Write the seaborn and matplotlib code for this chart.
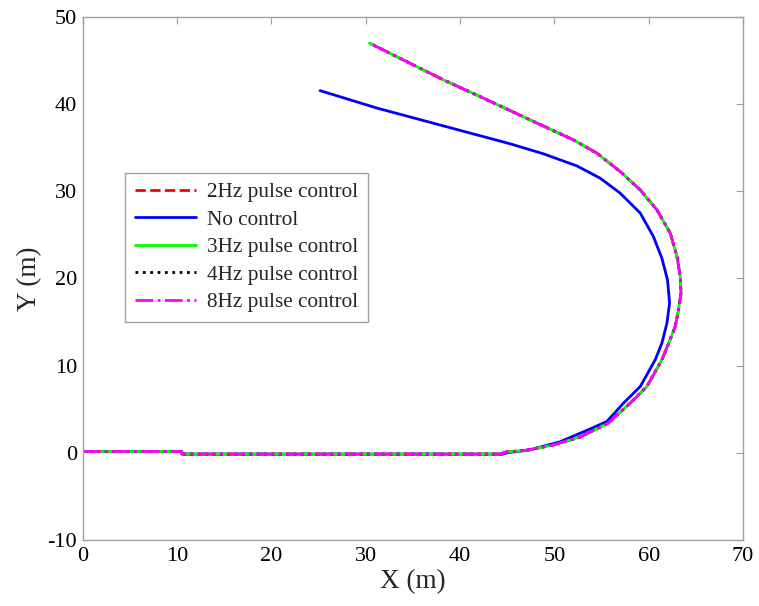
import matplotlib
matplotlib.use("Agg")
import matplotlib.pyplot as plt
import seaborn as sns

# trajectory (x, y in metres)
pulse_x = [0, 10.5, 10.5, 44.5, 44.6, 47.1, 49.9, 52.7, 55.7, 58.04, 59.8, 61.4, 62.2,
           62.81, 63.16, 63.42, 63.34, 63.0, 62.28, 60.87, 59.1, 56.98, 54.51, 52.03,
           47.43, 42.13, 38.24, 34.3, 30.4]
pulse_y = [0.15, 0.15, -0.15, -0.15, 0.05, 0.3, 0.9, 1.8, 3.4, 5.7, 7.6, 10.67, 12.8,
           14.48, 16.40, 18.31, 20.22, 22.5, 25.2, 27.87, 30.16, 32.26, 34.37, 35.89,
           38.19, 40.86, 42.78, 44.9, 47.0]

nocontrol_x = [0, 10.5, 10.5, 44.5, 45.0, 47.4, 50.6, 53.5, 55.56, 57.33, 59.1, 60.69, 61.4,
               61.93, 62.21, 61.99, 61.4, 60.5, 59.1, 56.98, 54.86, 52.39, 48.84, 45.31,
               38.24, 31.18, 25.16]
nocontrol_y = [0.15, 0.15, -0.15, -0.15, 0.0, 0.34, 1.26, 2.6, 3.59, 5.7, 7.6, 10.67, 12.6,
               14.87, 17.17, 19.84, 22.3, 24.8, 27.5, 29.78, 31.50, 32.91, 34.3, 35.45,
               37.5, 39.55, 41.55]

sns.set_style("white")
plt.rcParams['font.family'] = ['Liberation Serif', 'DejaVu Serif']
plt.rcParams['axes.unicode_minus'] = False

fig = plt.figure(figsize=(7.59, 6.06), dpi=100)
ax = fig.add_axes([0.109, 0.109, 0.870, 0.863])

lw = 2.0
sns.lineplot(x=pulse_x, y=pulse_y, sort=False, estimator=None, ax=ax, color='#ff0000',
             linestyle='--', linewidth=lw, label='2Hz pulse control')
sns.lineplot(x=nocontrol_x, y=nocontrol_y, sort=False, estimator=None, ax=ax, color='#0000ff',
             linestyle='-', linewidth=lw, label='No control')
sns.lineplot(x=pulse_x, y=pulse_y, sort=False, estimator=None, ax=ax, color='#00ff00',
             linestyle='-', linewidth=lw, label='3Hz pulse control')
sns.lineplot(x=pulse_x, y=pulse_y, sort=False, estimator=None, ax=ax, color='black',
             linestyle=':', linewidth=lw, label='4Hz pulse control')
sns.lineplot(x=pulse_x, y=pulse_y, sort=False, estimator=None, ax=ax, color='#ff00ff',
             linestyle='-.', linewidth=lw, label='8Hz pulse control')

ax.set_xlim(0, 70)
ax.set_ylim(-10, 50)
ax.set_xticks(range(0, 71, 10))
ax.set_yticks(range(-10, 51, 10))
ax.set_xlabel('X (m)', fontsize=19.5, labelpad=2)
ax.set_ylabel('Y (m)', fontsize=19.5, labelpad=4)

for s in ax.spines.values():
    s.set_color('#a0a0a0')
    s.set_linewidth(1.0)
ax.tick_params(direction='in', length=4.8, width=0.8, color='#a0a0a0', labelsize=16,
               top=True, right=True, labelcolor='black')
ax.tick_params(axis='x', pad=5)
ax.tick_params(axis='y', pad=4)

leg = ax.legend(loc='upper left', bbox_to_anchor=(0.064, 0.702), fontsize=15.3,
                frameon=True, fancybox=False, framealpha=1, edgecolor='#a0a0a0',
                borderpad=0.45, labelspacing=0.36, handlelength=2.9, handletextpad=0.5,
                borderaxespad=0)
leg.get_frame().set_linewidth(1.0)

fig.savefig('out.png', dpi=100)
